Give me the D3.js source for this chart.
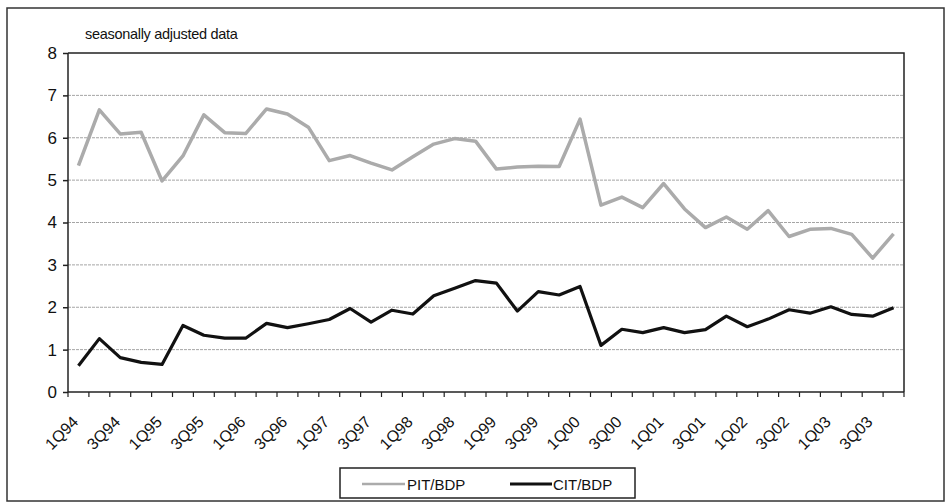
<!DOCTYPE html>
<html><head><meta charset="utf-8">
<script src="https://cdn.jsdelivr.net/npm/d3@7"></script>
<style>body{margin:0;background:#fff}svg{display:block;font-family:Arial,"Liberation Sans",sans-serif}</style>
</head><body><svg id="c" width="946" height="503"></svg>
<script>
const quarters = [];
const years = ["94","95","96","97","98","99","00","01","02","03"];
years.forEach(y => { for (let q = 1; q <= 4; q++) quarters.push(q + "Q" + y); });
const pitBdp = [5.34,6.66,6.09,6.13,4.98,5.57,6.54,6.12,6.10,6.68,
                6.56,6.25,5.46,5.58,5.40,5.24,5.55,5.85,5.98,5.92,
                5.26,5.31,5.33,5.32,6.44,4.41,4.60,4.35,4.92,4.32,
                3.88,4.13,3.84,4.28,3.67,3.84,3.86,3.72,3.16,3.73];
const citBdp = [0.62,1.26,0.81,0.70,0.65,1.57,1.34,1.27,1.27,1.62,
                1.52,1.61,1.71,1.97,1.65,1.93,1.84,2.27,2.45,2.63,
                2.57,1.91,2.37,2.29,2.49,1.10,1.48,1.40,1.52,1.40,
                1.47,1.79,1.54,1.72,1.94,1.86,2.01,1.83,1.79,1.99];
const yTicks = [0,1,2,3,4,5,6,7,8];
const seriesNames = ["PIT/BDP","CIT/BDP"];
const title = "seasonally adjusted data";

const svg = d3.select("#c");
const L = 68, R = 904, T = 53, B = 392;
const x = d3.scaleBand().domain(quarters).range([L, R]);
const y = d3.scaleLinear().domain([0, 8]).range([B, T]);

// outer frame
svg.append("rect").attr("x",7).attr("y",8).attr("width",937).attr("height",493)
  .attr("fill","none").attr("stroke","#333").attr("stroke-width",1.5);

// gridlines
svg.append("g").selectAll("line").data(yTicks.filter(d => d > 0 && d < 8)).join("line")
  .attr("x1",L).attr("x2",R).attr("y1",d=>y(d)).attr("y2",d=>y(d))
  .attr("stroke","#a5a5a5").attr("stroke-width",1).attr("stroke-dasharray","3,1");

// plot border top & right
svg.append("path").attr("d",`M${L},${y(8)}H${R}V${B}`).attr("fill","none")
  .attr("stroke","#222").attr("stroke-width",1.5);

// y axis
const ya = svg.append("g").attr("transform",`translate(${L},0)`)
  .call(d3.axisLeft(y).tickValues(yTicks).tickSize(5).tickPadding(6).tickFormat(d3.format("d")));
ya.selectAll("path,line").attr("stroke","#222").attr("stroke-width",1.5);
ya.select(".domain").attr("d",`M0,${T}V${B}`);
ya.selectAll("text").attr("font-size",17).attr("fill","#111").attr("font-family","Arial, Liberation Sans");

// x axis line and ticks at band boundaries
svg.append("line").attr("x1",L).attr("x2",R).attr("y1",B).attr("y2",B)
  .attr("stroke","#222").attr("stroke-width",1.5);
const bounds = quarters.map(q => x(q)).concat([R]);
svg.append("g").selectAll("line").data(bounds).join("line")
  .attr("x1",d=>d).attr("x2",d=>d).attr("y1",B).attr("y2",B+5)
  .attr("stroke","#222").attr("stroke-width",1.2);
svg.append("g").selectAll("text").data(quarters.filter((q,i)=>i%2===0)).join("text")
  .attr("transform",d=>`translate(${x(d)+x.bandwidth()/2-3},${B+27}) rotate(-45)`)
  .attr("text-anchor","end").attr("dy","0.35em")
  .attr("font-size",16).attr("fill","#111").text(d=>d);

// lines
const line = d3.line().x((d,i)=>x(quarters[i])+x.bandwidth()/2).y(d=>y(d));
svg.append("path").datum(pitBdp).attr("d",line).attr("fill","none")
  .attr("stroke","#ababab").attr("stroke-width",3.5).attr("stroke-linejoin","round");
svg.append("path").datum(citBdp).attr("d",line).attr("fill","none")
  .attr("stroke","#111").attr("stroke-width",3.2).attr("stroke-linejoin","round");

// title
svg.append("text").attr("x",85).attr("y",39).attr("font-size",14.5)
  .attr("letter-spacing","-0.3").attr("fill","#111").text(title);

// legend
svg.append("rect").attr("x",340).attr("y",468).attr("width",295).attr("height",30)
  .attr("fill","none").attr("stroke","#222").attr("stroke-width",1.5);
svg.append("line").attr("x1",362).attr("x2",405).attr("y1",484).attr("y2",484)
  .attr("stroke","#ababab").attr("stroke-width",2.5);
svg.append("text").attr("x",407).attr("y",489.5).attr("font-size",15).attr("fill","#111").text(seriesNames[0]);
svg.append("line").attr("x1",510).attr("x2",552).attr("y1",484).attr("y2",484)
  .attr("stroke","#111").attr("stroke-width",3.2);
svg.append("text").attr("x",553).attr("y",489.5).attr("font-size",15).attr("fill","#111").text(seriesNames[1]);
</script></body></html>
